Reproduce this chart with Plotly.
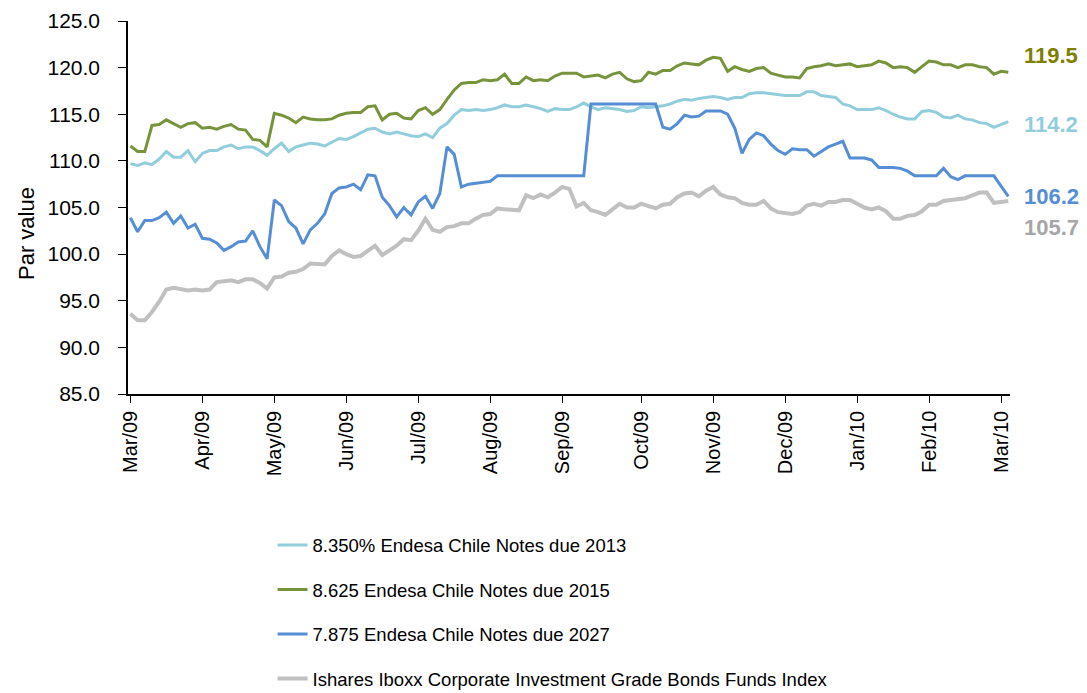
import pandas as pd
import plotly.graph_objects as go

# Sample dates (every 3 days)
dates = list(pd.date_range("2009-03-02", periods=123, freq="3D").strftime("%Y-%m-%d"))

notes_2013 = [
    109.7, 109.5, 109.8, 109.6, 110.2, 111.0, 110.4, 110.4, 111.1, 109.9, 110.8, 111.1, 111.1, 111.5, 111.7, 111.3, 111.5, 111.5, 111.1, 110.6, 111.3,
    111.9, 111.0, 111.5, 111.7, 111.9, 111.8, 111.6, 112.0, 112.4, 112.3, 112.6, 113.0, 113.4, 113.5, 113.1, 112.9, 113.1, 112.9, 112.7, 112.6,
    112.9, 112.5, 113.5, 114.0, 114.9, 115.5, 115.4, 115.5, 115.4, 115.5, 115.7, 116.0, 115.8, 115.8, 116.0, 115.8, 115.6, 115.3, 115.6, 115.5, 115.5,
    115.8, 116.2, 115.8, 115.5, 115.7, 115.6, 115.5, 115.3, 115.4, 115.8, 115.7, 115.8, 115.9, 116.1, 116.4, 116.6, 116.5, 116.7, 116.8, 116.9,
    116.8, 116.6, 116.8, 116.8, 117.2, 117.3, 117.3, 117.2, 117.1, 117.0, 117.0, 117.0, 117.4, 117.4, 117.0, 116.9, 116.8, 116.1, 115.9, 115.5, 115.5,
    115.5, 115.7, 115.4, 115.0, 114.7, 114.5, 114.5, 115.3, 115.4, 115.2, 114.7, 114.6, 114.9, 114.5, 114.4, 114.1, 114.0, 113.6, 113.9, 114.2,
]
notes_2015 = [
    111.6, 111.0, 111.0, 113.8, 113.9, 114.4, 114.0, 113.6, 114.0, 114.1, 113.5, 113.6, 113.4, 113.7, 113.9, 113.4, 113.3, 112.3, 112.2, 111.5, 115.1,
    114.9, 114.6, 114.1, 114.7, 114.5, 114.4, 114.4, 114.5, 114.9, 115.1, 115.2, 115.2, 115.8, 115.9, 114.4, 115.0, 115.1, 114.6, 114.5, 115.4,
    115.7, 115.0, 115.5, 116.6, 117.6, 118.3, 118.4, 118.4, 118.7, 118.6, 118.7, 119.3, 118.3, 118.3, 119.0, 118.6, 118.7, 118.6, 119.1, 119.4, 119.4,
    119.4, 119.0, 119.1, 119.2, 118.9, 119.3, 119.5, 118.8, 118.5, 118.6, 119.5, 119.3, 119.7, 119.7, 120.2, 120.5, 120.4, 120.3, 120.8, 121.1,
    121.0, 119.6, 120.1, 119.8, 119.6, 119.9, 120.0, 119.4, 119.2, 119.0, 119.0, 118.9, 119.9, 120.1, 120.2, 120.4, 120.2, 120.3, 120.4, 120.1, 120.2,
    120.3, 120.7, 120.5, 120.0, 120.1, 120.0, 119.5, 120.1, 120.7, 120.6, 120.3, 120.3, 120.0, 120.3, 120.3, 120.1, 120.0, 119.3, 119.6, 119.5,
]
notes_2027 = [
    103.9, 102.4, 103.6, 103.6, 103.9, 104.5, 103.3, 104.1, 102.8, 103.2, 101.7, 101.6, 101.2, 100.4, 100.8, 101.3, 101.4, 102.5, 100.8, 99.5, 105.8,
    105.2, 103.5, 102.8, 101.1, 102.6, 103.3, 104.3, 106.5, 107.1, 107.2, 107.5, 106.9, 108.5, 108.4, 106.1, 105.2, 104.0, 105.0, 104.2, 105.6,
    106.2, 104.9, 106.5, 111.5, 110.7, 107.2, 107.5, 107.6, 107.7, 107.8, 108.4, 108.4, 108.4, 108.4, 108.4, 108.4, 108.4, 108.4, 108.4, 108.4, 108.4,
    108.4, 108.4, 116.1, 116.1, 116.1, 116.1, 116.1, 116.1, 116.1, 116.1, 116.1, 116.1, 113.6, 113.4, 114.0, 114.9, 114.7, 114.8, 115.35, 115.35,
    115.35, 115.0, 113.5, 110.8, 112.3, 113.0, 112.7, 111.8, 111.1, 110.7, 111.3, 111.2, 111.2, 110.5, 111.0, 111.5, 111.8, 112.1, 110.3, 110.3, 110.3,
    110.1, 109.3, 109.3, 109.3, 109.2, 108.9, 108.4, 108.4, 108.4, 108.4, 109.2, 108.3, 108.0, 108.4, 108.4, 108.4, 108.4, 108.4, 107.3, 106.2,
]
iboxx_index = [
    93.6, 92.9, 92.9, 93.8, 94.9, 96.2, 96.4, 96.2, 96.1, 96.2, 96.1, 96.2, 97.0, 97.1, 97.2, 97.0, 97.3, 97.3, 96.9, 96.3, 97.5,
    97.6, 98.0, 98.1, 98.4, 99.0, 99.0, 98.9, 99.8, 100.4, 100.0, 99.7, 99.8, 100.3, 100.9, 99.9, 100.4, 100.9, 101.6, 101.5, 102.5,
    103.8, 102.6, 102.4, 102.9, 103.0, 103.3, 103.3, 103.8, 104.2, 104.3, 104.9, 104.8, 104.7, 104.7, 106.3, 106.0, 106.4, 106.1, 106.6, 107.2, 107.0,
    105.1, 105.5, 104.7, 104.5, 104.2, 104.8, 105.4, 105.0, 105.0, 105.4, 105.1, 104.9, 105.3, 105.4, 106.1, 106.5, 106.6, 106.2, 106.8, 107.2,
    106.4, 106.1, 106.0, 105.5, 105.3, 105.3, 105.7, 104.9, 104.5, 104.4, 104.3, 104.5, 105.2, 105.4, 105.2, 105.6, 105.6, 105.8, 105.8, 105.4, 105.0,
    104.8, 105.0, 104.6, 103.8, 103.8, 104.1, 104.2, 104.6, 105.3, 105.3, 105.7, 105.8, 105.8, 106.0, 106.3, 106.6, 106.6, 105.5, 105.6, 105.7,
]

series_names = [
    "8.350% Endesa Chile Notes due 2013",
    "8.625 Endesa Chile Notes due 2015",
    "7.875 Endesa Chile Notes due 2027",
    "Ishares Iboxx Corporate Investment Grade Bonds Funds Index",
]
series_values = [notes_2013, notes_2015, notes_2027, iboxx_index]
line_colors = ["#92CDDC", "#77933C", "#558ED5", "#C0C0C0"]
line_widths = [3, 3, 3, 4]
label_colors = ["#92CDDC", "#808000", "#558ED5", "#A6A6A6"]
label_yshift = [-3, 17, 0, -27]

tick_dates = ["2009-03-02", "2009-04-01", "2009-05-01", "2009-05-31", "2009-06-30", "2009-07-30",
              "2009-08-29", "2009-10-01", "2009-10-31", "2009-11-30", "2009-12-30", "2010-01-29", "2010-02-28"]
tick_labels = ["Mar/09", "Apr/09", "May/09", "Jun/09", "Jul/09", "Aug/09", "Sep/09",
               "Oct/09", "Nov/09", "Dec/09", "Jan/10", "Feb/10", "Mar/10"]

FONT = "Liberation Sans, Arial, sans-serif"

fig = go.Figure()
for i, (name, vals) in enumerate(zip(series_names, series_values)):
    fig.add_trace(go.Scatter(
        x=dates, y=vals, mode="lines", name=name, legendgroup=f"g{i}",
        line=dict(color=line_colors[i], width=line_widths[i]),
    ))
    fig.add_annotation(
        x=dates[-1], y=vals[-1], text=f"<b>{vals[-1]:.1f}</b>", showarrow=False,
        xanchor="left", yanchor="middle", xshift=14, yshift=label_yshift[i],
        font=dict(family=FONT, size=22, color=label_colors[i]),
    )

fig.add_annotation(
    xref="paper", yref="paper", x=-0.1145, y=0.429, text="Par value", textangle=-90,
    showarrow=False, xanchor="center", yanchor="middle",
    font=dict(family=FONT, size=22, color="#000000"),
)

fig.update_layout(
    width=1087, height=693,
    margin=dict(l=120, r=85, t=13, b=307, autoexpand=False),
    paper_bgcolor="white", plot_bgcolor="white",
    font=dict(family=FONT, color="#000000"),
    showlegend=True,
    legend=dict(
        xref="container", yref="container",
        x=0.2434, y=0.2519, xanchor="left", yanchor="top",
        font=dict(family=FONT, size=18.5, color="#000000"),
        tracegroupgap=17.5, bgcolor="rgba(0,0,0,0)",
    ),
)
fig.update_xaxes(
    type="category", range=[-0.333, 122.24], automargin=False,
    tickmode="array", tickvals=tick_dates, ticktext=tick_labels,
    tickangle=-90, ticks="outside", ticklen=7, tickcolor="#000000", tickwidth=1.3,
    showline=True, linecolor="#000000", linewidth=1.5, showgrid=False, zeroline=False,
    tickfont=dict(family=FONT, size=20, color="#000000"),
)
fig.update_yaxes(
    range=[85, 125], dtick=5, tick0=85, tickformat=".1f", automargin=False,
    ticks="outside", ticklen=8, tickcolor="#000000", tickwidth=1.3,
    showline=True, linecolor="#000000", linewidth=1.5, showgrid=False, zeroline=False,
    tickfont=dict(family=FONT, size=21, color="#000000"), ticklabelstandoff=14,
)

fig.write_html("out.html")
